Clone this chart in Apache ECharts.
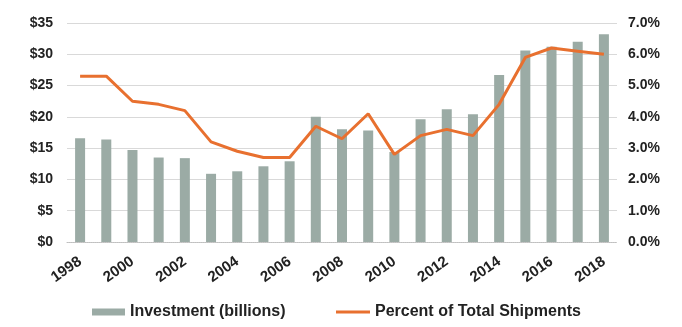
<!DOCTYPE html>
<html><head><meta charset="utf-8">
<script src="https://cdn.jsdelivr.net/npm/echarts@6/dist/echarts.min.js"></script>
<style>html,body{margin:0;padding:0;background:#fff}#c{width:682px;height:327px}</style>
</head><body><div id="c"></div>
<script>
const years = ['1998','1999','2000','2001','2002','2003','2004','2005','2006','2007','2008','2009','2010','2011','2012','2013','2014','2015','2016','2017','2018'];
const investment = [16.6,16.4,14.7,13.5,13.4,10.9,11.3,12.1,12.9,20.0,18.0,17.8,14.4,19.6,21.2,20.4,26.7,30.6,31.2,32.0,33.2];
const percentShipments = [5.3,5.3,4.5,4.4,4.2,3.2,2.9,2.7,2.7,3.7,3.3,4.1,2.8,3.4,3.6,3.4,4.4,5.9,6.2,6.1,6.0];
const leftTicks = [0,5,10,15,20,25,30,35];
const rightTicks = [0,1,2,3,4,5,6,7];

const font = '"Liberation Sans", Arial, sans-serif';
const legendText = {fontFamily: font, fontSize: 16, fontWeight: 'bold', color: '#222'};
const chart = echarts.init(document.getElementById('c'));
chart.setOption({
  animation: false,
  grid: {left: 67, right: 65, top: 23, bottom: 85, containLabel: false},
  legend: [{
    left: 92, top: 304, itemWidth: 33, itemHeight: 7, padding: 0,
    textStyle: legendText,
    data: [{name: 'Investment (billions)', icon: 'rect'}]
  }, {
    left: 336, top: 304, itemWidth: 34, itemHeight: 3, padding: 0,
    textStyle: legendText,
    data: [{name: 'Percent of Total Shipments', icon: 'rect'}]
  }],
  xAxis: {
    type: 'category', data: years,
    axisTick: {show: false},
    axisLine: {lineStyle: {color: '#bfbfbf', type: 'dotted', width: 1}},
    axisLabel: {interval: 1, rotate: 35, fontFamily: font, fontSize: 15, fontWeight: 'bold', color: '#222', margin: 18}
  },
  yAxis: [{
    type: 'value', min: leftTicks[0], max: leftTicks[leftTicks.length-1], interval: 5,
    axisLine: {show: false}, axisTick: {show: false},
    splitLine: {lineStyle: {color: '#d9d9d9', width: 1}},
    axisLabel: {formatter: v => '$' + v, fontFamily: font, fontSize: 14, fontWeight: 'bold', color: '#222', margin: 14}
  }, {
    type: 'value', min: rightTicks[0], max: rightTicks[rightTicks.length-1], interval: 1,
    axisLine: {show: false}, axisTick: {show: false}, splitLine: {show: false},
    axisLabel: {formatter: v => v.toFixed(1) + '%', fontFamily: font, fontSize: 14, fontWeight: 'bold', color: '#222', margin: 11}
  }],
  series: [{
    name: 'Investment (billions)', type: 'bar', data: investment, barWidth: 10,
    itemStyle: {color: '#9BABA5'}
  }, {
    name: 'Percent of Total Shipments', type: 'line', yAxisIndex: 1, data: percentShipments,
    symbol: 'none', lineStyle: {color: '#E8702F', width: 3}, itemStyle: {color: '#E8702F'}
  }]
});
</script></body></html>
